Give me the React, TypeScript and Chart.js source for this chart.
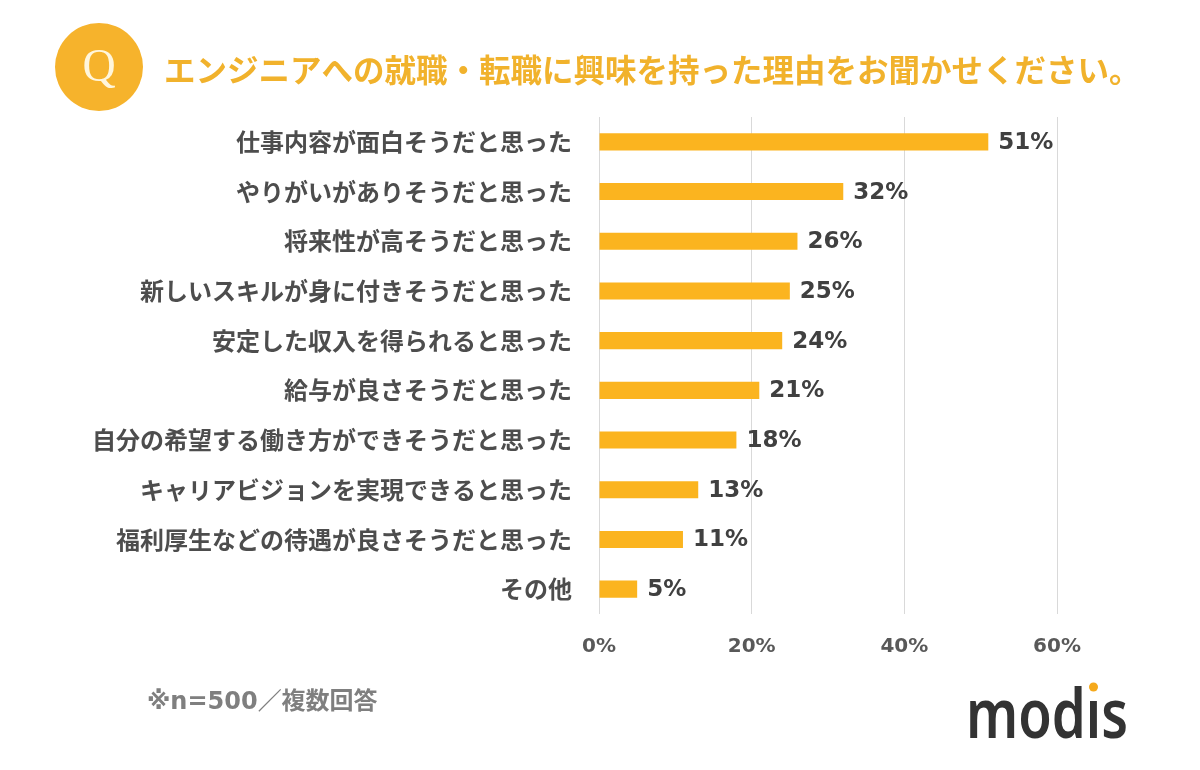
import React, { useEffect, useRef } from "react";
import { Chart, registerables } from "chart.js";

Chart.register(...registerables);

const categories = [
  "仕事内容が面白そうだと思った",
  "やりがいがありそうだと思った",
  "将来性が高そうだと思った",
  "新しいスキルが身に付きそうだと思った",
  "安定した収入を得られると思った",
  "給与が良さそうだと思った",
  "自分の希望する働き方ができそうだと思った",
  "キャリアビジョンを実現できると思った",
  "福利厚生などの待遇が良さそうだと思った",
  "その他",
];
const values = [51, 32, 26, 25, 24, 21, 18, 13, 11, 5];
const axisMin = 0;
const axisMax = 60;
const axisStep = 20;
const titleText = "エンジニアへの就職・転職に興味を持った理由をお聞かせください。";
const footnoteText = "※n=500／複数回答";
const logoText = "modıs";

const BAR = "#FBB41F";
const ORANGE = "#F1B22C";

const valueLabels = {
  id: "valueLabels",
  afterDatasetsDraw(chart: any) {
    const ctx = chart.ctx;
    const meta = chart.getDatasetMeta(0);
    ctx.save();
    ctx.font = "bold 23px 'DejaVu Sans'";
    ctx.fillStyle = "#404040";
    ctx.textAlign = "left";
    ctx.textBaseline = "middle";
    meta.data.forEach((bar: any, i: number) => {
      ctx.fillText(values[i] + "%", bar.x + 10, bar.y + 1);
    });
    ctx.restore();
  },
};

const decorations = {
  id: "decorations",
  afterDraw(chart: any) {
    const ctx = chart.ctx;
    ctx.save();
    // Q circle
    ctx.fillStyle = "#F6B32C";
    ctx.beginPath();
    ctx.arc(99, 67, 44, 0, Math.PI * 2);
    ctx.fill();
    ctx.fillStyle = "#FFF6DC";
    ctx.font = "46px 'Liberation Serif'";
    ctx.textAlign = "center";
    ctx.textBaseline = "middle";
    ctx.fillText("Q", 99, 69);
    // Title
    ctx.fillStyle = ORANGE;
    ctx.font = "bold 31.5px 'Noto Sans CJK JP'";
    ctx.textAlign = "left";
    ctx.fillText(titleText, 164, 70);
    // Footnote
    ctx.fillStyle = "#7f7f7f";
    ctx.font = "bold 24px 'DejaVu Sans', 'Noto Sans CJK JP'";
    ctx.fillText(footnoteText, 147, 703);
    // Logo
    ctx.font = "600 68px 'Noto Sans'";
    ctx.fillStyle = "#333333";
    ctx.textBaseline = "alphabetic";
    const w = ctx.measureText(logoText).width;
    const sx = 162 / w;
    ctx.translate(966, 738);
    ctx.scale(sx, 1);
    ctx.fillText(logoText, 0, 0);
    const pre = ctx.measureText("mod").width;
    const iw = ctx.measureText("ı").width;
    ctx.restore();
    ctx.save();
    ctx.fillStyle = "#F5A91C";
    ctx.beginPath();
    ctx.arc(966 + (pre + iw / 2) * sx, 687, 4.5, 0, Math.PI * 2);
    ctx.fill();
    ctx.restore();
  },
};

export default function App() {
  const ref = useRef<HTMLCanvasElement | null>(null);
  useEffect(() => {
    if (!ref.current) return;
    const chart = new Chart(ref.current, {
      type: "bar",
      data: {
        labels: categories,
        datasets: [
          {
            data: values,
            backgroundColor: BAR,
            borderWidth: 0,
            categoryPercentage: 1,
            barPercentage: 0.345,
          },
        ],
      },
      options: {
        indexAxis: "y",
        responsive: false,
        animation: false,
        layout: { padding: { top: 117, right: 143, left: 0, bottom: 0 } },
        plugins: {
          legend: { display: false },
          tooltip: { enabled: false },
        },
        scales: {
          x: {
            min: axisMin,
            max: axisMax,
            ticks: {
              stepSize: axisStep,
              callback: (v: any) => v + "%",
              font: { family: "'DejaVu Sans'", weight: "bold", size: 20 },
              color: "#595959",
              padding: 21,
            },
            grid: { color: "#d9d9d9", drawTicks: false, lineWidth: 1 },
            border: { display: false },
            afterFit: (s: any) => {
              s.height = 156;
            },
          },
          y: {
            grid: { display: false, drawTicks: false },
            border: { display: false },
            ticks: {
              font: { family: "'Noto Sans CJK JP'", weight: "bold", size: 24 },
              color: "#4d4d4d",
              padding: 27,
            },
            afterFit: (s: any) => {
              s.width = 599;
            },
          },
        },
      } as any,
      plugins: [valueLabels, decorations],
    });
    return () => chart.destroy();
  }, []);
  return (
    <div style={{ position: "absolute", left: 0, top: 0, width: 1200, height: 770, background: "#fff" }}>
      <canvas ref={ref} width={1200} height={770} style={{ display: "block" }} />
    </div>
  );
}
